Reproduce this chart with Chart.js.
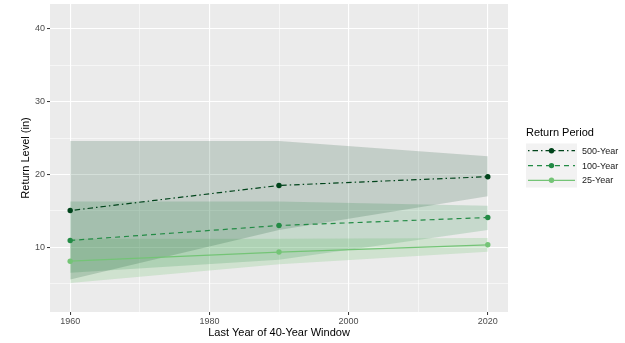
<!DOCTYPE html>
<html lang="en">
<head>
<meta charset="UTF-8">
<title>Return Level</title>
<script src="https://cdn.jsdelivr.net/npm/chart.js"></script>
<style>
  html, body { margin: 0; padding: 0; background: #fff; }
  #wrap { width: 625px; height: 343px; }
</style>
</head>
<body>
<div id="wrap"><canvas id="myChart" width="625" height="343"></canvas></div>
<script>
// data
const years = [1960, 1990, 2020];
const periods = ['500-Year', '100-Year', '25-Year'];

const level500 = [15.05, 18.5, 19.7];
const lower500 = [5.6, 12.4, 17.0];
const upper500 = [24.6, 24.6, 22.5];

const level100 = [10.95, 13.0, 14.1];
const lower100 = [6.5, 8.3, 12.4];
const upper100 = [16.3, 16.3, 15.7];

const level25 = [8.1, 9.36, 10.35];
const lower25 = [5.1, 7.7, 9.4];
const upper25 = [11.2, 11.2, 11.3];

const colors = ['#00441b', '#238b45', '#74c476'];
const fills = ['rgba(0,68,27,0.17)', 'rgba(35,139,69,0.18)', 'rgba(116,196,118,0.24)'];
const dashes = [[1.5, 3, 5.5, 3], [5, 4], []];

function pts(arr) {
    return years.map(function (x, i) { return { x: x, y: arr[i] }; });
}

const levels = [level500, level100, level25];
const lowers = [lower500, lower100, lower25];
const uppers = [upper500, upper100, upper25];

let datasets = [];
// ribbons (upper filled down to lower)
for (let i = 0; i < 3; i++) {
    datasets.push({
        label: periods[i] + ' upper',
        data: pts(uppers[i]),
        borderWidth: 0,
        pointRadius: 0,
        backgroundColor: fills[i],
        fill: { target: datasets.length + 1 },
        order: 10
    });
    datasets.push({
        label: periods[i] + ' lower',
        data: pts(lowers[i]),
        borderWidth: 0,
        pointRadius: 0,
        fill: false,
        order: 10
    });
}
// lines
for (let i = 0; i < 3; i++) {
    datasets.push({
        label: periods[i],
        data: pts(levels[i]),
        borderColor: colors[i],
        backgroundColor: colors[i],
        borderWidth: 1.2,
        borderDash: dashes[i],
        pointRadius: 2.7,
        pointBorderWidth: 0,
        fill: false,
        tension: 0,
        order: 1
    });
}

// gray panel
const panelBg = {
    id: 'panelBg',
    beforeDraw(chart) {
        const a = chart.chartArea;
        const c = chart.ctx;
        c.save();
        c.fillStyle = '#ebebeb';
        c.fillRect(a.left, a.top, a.right - a.left, a.bottom - a.top);
        c.restore();
    }
};

// ggplot-like legend on the right
const sideLegend = {
    id: 'sideLegend',
    afterDraw(chart) {
        const c = chart.ctx;
        c.save();
        c.fillStyle = '#000';
        c.font = '11px "Liberation Sans", Arial, sans-serif';
        c.textBaseline = 'middle';
        c.fillText('Return Period', 526, 133);
        c.fillStyle = '#f2f2f2';
        c.fillRect(526, 143.5, 51, 44);
        const ys = [150.7, 165.6, 180.3];
        for (let i = 0; i < 3; i++) {
            c.strokeStyle = colors[i];
            c.lineWidth = 1.2;
            c.setLineDash(dashes[i]);
            c.beginPath();
            c.moveTo(528, ys[i]);
            c.lineTo(575, ys[i]);
            c.stroke();
            c.setLineDash([]);
            c.fillStyle = colors[i];
            c.beginPath();
            c.arc(551.5, ys[i], 2.7, 0, Math.PI * 2);
            c.fill();
            c.fillStyle = '#1a1a1a';
            c.font = '9px "Liberation Sans", Arial, sans-serif';
            c.fillText(periods[i], 582, ys[i] + 0.5);
        }
        c.restore();
    }
};

function gridWidth(ctx, step) {
    return (ctx.tick && ctx.tick.value % step === 0) ? 1.1 : 0.55;
}
function tickCol(ctx, step) {
    return (ctx.tick && ctx.tick.value % step === 0) ? '#333333' : 'rgba(0,0,0,0)';
}

const ctx = document.getElementById('myChart');
const mychart = new Chart(ctx, {
    type: 'line',
    data: { datasets: datasets },
    plugins: [panelBg, sideLegend],
    options: {
        responsive: false,
        animation: false,
        layout: { padding: { top: 3, right: 117, left: 0, bottom: 0 } },
        plugins: {
            legend: { display: false },
            tooltip: { enabled: false }
        },
        scales: {
            x: {
                type: 'linear',
                min: 1957.1,
                max: 2022.9,
                border: { display: false },
                grid: {
                    color: '#ffffff',
                    lineWidth: function (c) { return gridWidth(c, 20); },
                    tickColor: function (c) { return tickCol(c, 20); },
                    tickLength: 3,
                    tickWidth: 1
                },
                ticks: {
                    stepSize: 10,
                    includeBounds: false,
                    autoSkip: false,
                    maxRotation: 0,
                    padding: 1,
                    color: '#4d4d4d',
                    font: { family: '"Liberation Sans", Arial, sans-serif', size: 9 },
                    callback: function (v) { return v % 20 === 0 ? String(v) : ''; }
                },
                title: {
                    display: true,
                    text: 'Last Year of 40-Year Window',
                    color: '#000',
                    font: { family: '"Liberation Sans", Arial, sans-serif', size: 11 },
                    padding: { top: 0, bottom: 3.5 }
                },
                afterFit: function (s) { s.height = 31; }
            },
            y: {
                type: 'linear',
                min: 1.13,
                max: 43.4,
                border: { display: false },
                grid: {
                    color: '#ffffff',
                    lineWidth: function (c) { return gridWidth(c, 10); },
                    tickColor: function (c) { return tickCol(c, 10); },
                    tickLength: 3,
                    tickWidth: 1
                },
                ticks: {
                    stepSize: 5,
                    includeBounds: false,
                    autoSkip: false,
                    padding: 2,
                    color: '#4d4d4d',
                    font: { family: '"Liberation Sans", Arial, sans-serif', size: 9 },
                    callback: function (v) { return v % 10 === 0 ? String(v) : ''; }
                },
                title: {
                    display: true,
                    text: 'Return Level (in)',
                    color: '#000',
                    font: { family: '"Liberation Sans", Arial, sans-serif', size: 11 },
                    padding: { top: 19.5, bottom: 0 }
                },
                afterFit: function (s) {
                    s.width = 50;
                    s.paddingTop = 0;
                    s.paddingBottom = 0;
                }
            }
        }
    }
});
</script>
</body>
</html>
